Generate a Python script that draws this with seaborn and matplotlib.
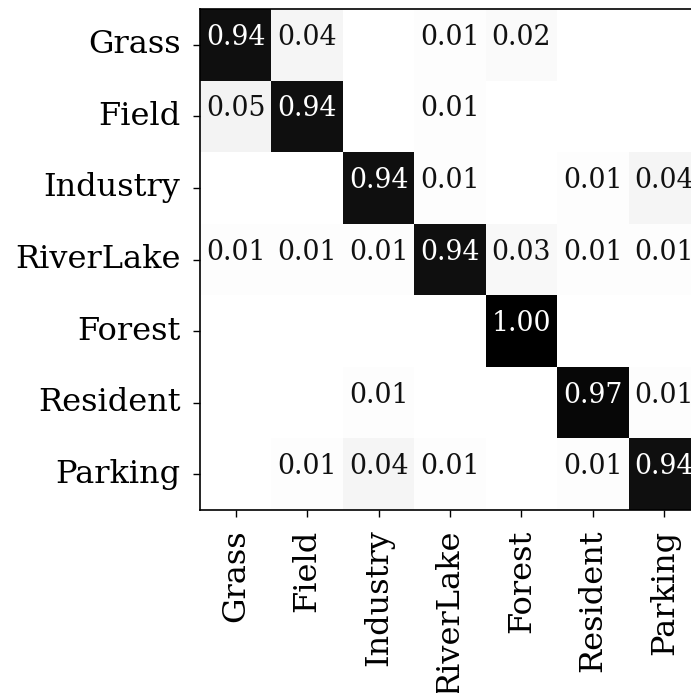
import numpy as np
import matplotlib
matplotlib.use("Agg")
import matplotlib.pyplot as plt
import seaborn as sns

classes = ["Grass", "Field", "Industry", "RiverLake", "Forest", "Resident", "Parking"]

row_grass = [0.94, 0.04, 0.00, 0.01, 0.02, 0.00, 0.00]
row_field = [0.05, 0.94, 0.00, 0.01, 0.00, 0.00, 0.00]
row_industry = [0.00, 0.00, 0.94, 0.01, 0.00, 0.01, 0.04]
row_riverlake = [0.01, 0.01, 0.01, 0.94, 0.03, 0.01, 0.01]
row_forest = [0.00, 0.00, 0.00, 0.00, 1.00, 0.00, 0.00]
row_resident = [0.00, 0.00, 0.01, 0.00, 0.00, 0.97, 0.01]
row_parking = [0.00, 0.01, 0.04, 0.01, 0.00, 0.01, 0.94]

cm = np.array([row_grass, row_field, row_industry, row_riverlake,
               row_forest, row_resident, row_parking])
labels = np.where(cm > 0, np.char.mod("%.2f", cm), "")

fig = plt.figure(figsize=(6.91, 6.93), dpi=100)
ax = fig.add_axes([200 / 691, 1 - 510 / 693, 500 / 691, 501 / 693])

sns.heatmap(cm, ax=ax, cmap="gray_r", vmin=0, vmax=1, cbar=False,
            annot=labels, fmt="",
            annot_kws={"fontsize": 19.3, "family": "DejaVu Serif", "va": "baseline"},
            xticklabels=classes, yticklabels=classes)

# dark text on light cells
for t in ax.texts:
    if t.get_color() not in ("w", "white"):
        t.set_color("#111111")

for s in ax.spines.values():
    s.set_visible(True)
    s.set_color("black")
    s.set_linewidth(1.2)

ax.tick_params(axis="both", which="both", length=5, width=1, direction="out",
               labelsize=23, pad=9)
for t in ax.get_xticklabels():
    t.set_rotation(90)
    t.set_family("DejaVu Serif")
for t in ax.get_yticklabels():
    t.set_rotation(0)
    t.set_family("DejaVu Serif")

fig.savefig("out.png", dpi=100)
